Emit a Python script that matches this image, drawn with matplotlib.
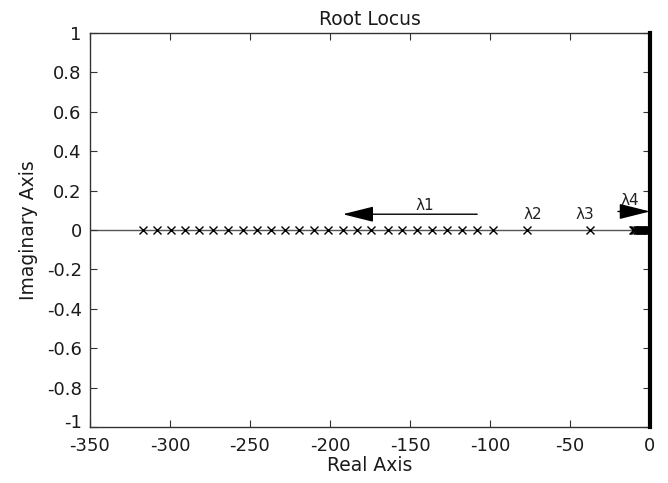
import matplotlib
matplotlib.use("Agg")
import matplotlib.pyplot as plt
import matplotlib.transforms as mtransforms
import numpy as np

plt.rcParams['font.family'] = ['DejaVu Sans']
plt.rcParams['axes.unicode_minus'] = False

# Closed-loop pole locations (real parts) along the negative real axis
lambda1_poles = [-316.9, -308.1, -299.4, -290.6, -281.9, -273.1, -263.8, -254.4,
                 -245.6, -236.9, -228.1, -219.4, -210.0, -201.3, -191.9, -183.1,
                 -174.4, -163.8, -155.0, -145.6, -136.3, -126.9, -117.5, -108.1, -98.1]
lambda2_poles = [-77.0]
lambda3_poles = [-37.7]
lambda4_poles = [-10.5, -9.8, -9.1, -8.4, -7.7, -7.0, -6.3, -5.6, -4.9, -4.2,
                 -3.5, -2.8, -2.1, -1.4, -0.8]

xticks = [-350, -300, -250, -200, -150, -100, -50, 0]
yticks = [-1, -0.8, -0.6, -0.4, -0.2, 0, 0.2, 0.4, 0.6, 0.8, 1]
ytick_labels = ['-1', '-0.8', '-0.6', '-0.4', '-0.2', '0', '0.2', '0.4', '0.6', '0.8', '1']

fig = plt.figure(figsize=(6.68, 4.83), dpi=100)
ax = fig.add_axes([0.1347, 0.116, 0.973 - 0.1347, 0.9317 - 0.116])

edge = '#333333'
txt = '#1a1a1a'
ax.plot([-350, 0], [0, 0], color='#555555', lw=1.0, zorder=1)
ax.plot([0, 0], [-1, 1], color='black', lw=3.0, clip_on=False, zorder=3)

all_poles = lambda1_poles + lambda2_poles + lambda3_poles + lambda4_poles
ax.plot(all_poles, np.zeros(len(all_poles)), linestyle='none', marker='x',
        color='black', markersize=6, mew=1.0, zorder=2)

arrow_kw = dict(arrowstyle='-|>,head_length=1.6,head_width=0.4', color='black',
                lw=1.0, shrinkA=0, shrinkB=0, mutation_scale=12)
ax.annotate('', xy=(-192, 0.08), xytext=(-108, 0.08), arrowprops=arrow_kw)
ax.annotate('', xy=(0, 0.094), xytext=(-20, 0.094), arrowprops=arrow_kw)

lab_kw = dict(fontsize=11, color='#222222', ha='center', va='center')
ax.text(-141, 0.125, 'λ1', **lab_kw)
ax.text(-73.5, 0.08, 'λ2', **lab_kw)
ax.text(-41, 0.08, 'λ3', **lab_kw)
ax.text(-12.5, 0.15, 'λ4', **lab_kw)

ax.set_xlim(-350, 0)
ax.set_ylim(-1, 1)
ax.set_xticks(xticks)
ax.set_yticks(yticks)
ax.set_yticklabels(ytick_labels)
ax.tick_params(direction='in', top=True, right=True, length=5, width=0.8,
               labelsize=13, colors=edge, labelcolor=txt)
ax.tick_params(axis='y', pad=6)
ax.tick_params(axis='x', pad=7)
for s in ax.spines.values():
    s.set_color(edge)
    s.set_linewidth(1.0)

# lift the bottom y label a little so it clears the first x label
low = ax.get_yticklabels()[0]
low.set_transform(low.get_transform() +
                  mtransforms.ScaledTranslation(0, 4 / 72, fig.dpi_scale_trans))

ax.set_title('Root Locus', fontsize=13.5, color=txt, pad=6)
ax.set_xlabel('Real Axis', fontsize=13.5, color=txt, labelpad=1)
ax.set_ylabel('Imaginary Axis', fontsize=13.5, color=txt, labelpad=6)

fig.savefig('out.png', dpi=100)
